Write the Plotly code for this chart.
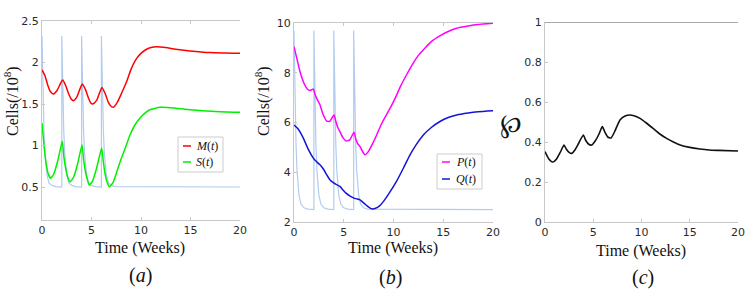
import plotly.graph_objects as go

W, H = 747, 291

# ---------------- data ----------------
# Panel (a)
m_t = [0, 0.3, 0.6, 0.85, 1.14, 1.5, 1.8, 2.09, 2.4, 2.7, 2.95, 3.16, 3.5, 3.8, 4.07, 4.4, 4.7, 4.95, 5.12,
       5.5, 5.8, 6.06, 6.4, 6.7, 7.0, 7.2, 7.6, 8.0, 8.55, 9.0, 9.56, 10.0, 10.57, 11.0, 11.6, 12.5, 13.5,
       14.95, 17, 20]
m_v = [1.91, 1.84, 1.72, 1.65, 1.62, 1.66, 1.73, 1.79, 1.72, 1.62, 1.56, 1.54, 1.58, 1.67, 1.74, 1.67, 1.57,
       1.51, 1.50, 1.54, 1.63, 1.70, 1.62, 1.52, 1.47, 1.46, 1.52, 1.62, 1.77, 1.92, 2.05, 2.11, 2.16, 2.18,
       2.19, 2.18, 2.16, 2.14, 2.12, 2.11]
s_t = [0, 0.2, 0.4, 0.6, 0.88, 1.2, 1.6, 2.05, 2.2, 2.4, 2.6, 2.83, 3.2, 3.6, 4.04, 4.2, 4.4, 4.6, 4.78, 5.1,
       5.5, 6.03, 6.2, 6.4, 6.6, 6.8, 7.2, 7.6, 8.0, 8.5, 8.9, 9.4, 9.9, 10.4, 10.9, 11.9, 13, 15, 17.5, 20]
s_v = [1.27, 1.0, 0.8, 0.67, 0.605, 0.66, 0.82, 1.05, 0.87, 0.72, 0.62, 0.56, 0.62, 0.78, 1.01, 0.83, 0.68,
       0.58, 0.52, 0.57, 0.72, 0.97, 0.80, 0.64, 0.55, 0.50, 0.56, 0.70, 0.84, 1.0, 1.13, 1.25, 1.33, 1.39,
       1.43, 1.46, 1.455, 1.43, 1.41, 1.40]

# drug dosing curve (light blue), same times for panels a and b
drug_t = [0, 0.05, 0.1, 0.15, 0.2, 0.3, 0.4, 0.5, 0.7, 1.0, 1.4, 2.0,
          2.0, 2.05, 2.1, 2.15, 2.2, 2.3, 2.4, 2.5, 2.7, 3.0, 3.4, 4.0,
          4.0, 4.05, 4.1, 4.15, 4.2, 4.3, 4.4, 4.5, 4.7, 5.0, 5.4, 6.0,
          6.0, 6.05, 6.1, 6.15, 6.2, 6.3, 6.4, 6.5, 6.7, 7.0, 7.4, 20]
drug_a = [2.32, 1.92, 1.61, 1.36, 1.17, 0.90, 0.75, 0.65, 0.55, 0.52, 0.505, 0.5,
          2.32, 1.92, 1.61, 1.36, 1.17, 0.90, 0.75, 0.65, 0.55, 0.52, 0.505, 0.5,
          2.32, 1.92, 1.61, 1.36, 1.17, 0.90, 0.75, 0.65, 0.55, 0.52, 0.505, 0.5,
          2.32, 1.92, 1.61, 1.36, 1.17, 0.90, 0.75, 0.65, 0.55, 0.52, 0.505, 0.5]
drug_b = [9.7, 8.12, 6.89, 5.88, 5.16, 4.08, 3.51, 3.08, 2.72, 2.57, 2.52, 2.5,
          9.7, 8.12, 6.89, 5.88, 5.16, 4.08, 3.51, 3.08, 2.72, 2.57, 2.52, 2.5,
          9.7, 8.12, 6.89, 5.88, 5.16, 4.08, 3.51, 3.08, 2.72, 2.57, 2.52, 2.5,
          9.7, 8.12, 6.89, 5.88, 5.16, 4.08, 3.51, 3.08, 2.72, 2.57, 2.52, 2.5]

# Panel (b)
p_t = [0, 0.3, 0.6, 0.94, 1.2, 1.44, 1.7, 1.94, 2.1, 2.3, 2.61, 2.9, 3.28, 3.6, 4.02, 4.2, 4.4, 4.62, 4.9,
       5.23, 5.6, 6.03, 6.2, 6.4, 6.63, 6.9, 7.14, 7.5, 7.9, 8.31, 8.8, 9.2, 9.65, 10.2, 10.7, 11.3, 12,
       12.5, 13, 13.8, 14.7, 15.5, 16.35, 17.5, 18.5, 20]
p_v = [9.05, 8.55, 8.05, 7.64, 7.42, 7.31, 7.30, 7.35, 7.15, 6.95, 6.71, 6.35, 6.06, 6.05, 6.30, 6.05,
       5.80, 5.63, 5.40, 5.26, 5.30, 5.61, 5.35, 5.15, 5.03, 4.83, 4.70, 4.85, 5.15, 5.50, 5.95, 6.25,
       6.57, 7.0, 7.45, 7.91, 8.4, 8.7, 8.92, 9.25, 9.49, 9.66, 9.79, 9.88, 9.94, 9.99]
q_t = [0, 0.4, 0.94, 1.4, 1.94, 2.2, 2.61, 3.0, 3.28, 3.6, 4.02, 4.3, 4.62, 4.9, 5.23, 5.6, 6.03, 6.3,
       6.63, 6.9, 7.14, 7.5, 7.8, 8.2, 8.6, 8.98, 9.6, 10.3, 11, 11.66, 12.3, 13, 13.8, 14.67, 15.5, 16.35,
       17.5, 18.5, 20]
q_v = [5.90, 5.75, 5.37, 4.95, 4.57, 4.45, 4.30, 4.10, 3.90, 3.70, 3.56, 3.50, 3.43, 3.30, 3.16, 3.05,
       2.96, 2.93, 2.89, 2.80, 2.72, 2.60, 2.53, 2.55, 2.65, 2.82, 3.18, 3.63, 4.17, 4.70, 5.12, 5.50,
       5.80, 6.04, 6.20, 6.30, 6.38, 6.43, 6.47]

# Panel (c)
w_t = [0, 0.4, 0.8, 1.2, 1.6, 1.97, 2.2, 2.5, 2.76, 3.1, 3.5, 3.97, 4.2, 4.5, 4.84, 5.2, 5.6, 5.94, 6.2,
       6.5, 6.84, 7.2, 7.77, 8.3, 8.8, 9.3, 9.84, 10.5, 11.2, 11.9, 12.6, 13.3, 14.0, 15, 16.06, 17, 18, 20]
w_v = [0.352, 0.315, 0.300, 0.315, 0.35, 0.385, 0.365, 0.348, 0.343, 0.36, 0.395, 0.435, 0.41, 0.39,
       0.385, 0.405, 0.44, 0.477, 0.45, 0.425, 0.42, 0.45, 0.51, 0.53, 0.535, 0.53, 0.518, 0.495, 0.468,
       0.44, 0.418, 0.40, 0.385, 0.373, 0.365, 0.36, 0.358, 0.355]

x_ticks = [0, 5, 10, 15, 20]
ya_ticks = [0.5, 1, 1.5, 2, 2.5]
yb_ticks = [2, 4, 6, 8, 10]
yc_ticks = [0, 0.2, 0.4, 0.6, 0.8, 1]

# ---------------- figure ----------------
def px(x):
    return x / W

def py(y):
    return 1 - y / H

BLUE_LIGHT = "rgb(178,204,240)"
fig = go.Figure()

fig.add_trace(go.Scatter(x=drug_t, y=drug_a, mode="lines", line=dict(color=BLUE_LIGHT, width=1.2),
                         xaxis="x", yaxis="y", showlegend=False))
fig.add_trace(go.Scatter(x=m_t, y=m_v, mode="lines", line=dict(color="#ff0000", width=1.5, shape="spline", smoothing=0.6),
                         xaxis="x", yaxis="y", showlegend=False))
fig.add_trace(go.Scatter(x=s_t, y=s_v, mode="lines", line=dict(color="#00f000", width=1.5, shape="spline", smoothing=0.4),
                         xaxis="x", yaxis="y", showlegend=False))

fig.add_trace(go.Scatter(x=drug_t, y=drug_b, mode="lines", line=dict(color=BLUE_LIGHT, width=1.2),
                         xaxis="x2", yaxis="y2", showlegend=False))
fig.add_trace(go.Scatter(x=p_t, y=p_v, mode="lines", line=dict(color="#ff00ff", width=1.5, shape="spline", smoothing=0.5),
                         xaxis="x2", yaxis="y2", showlegend=False))
fig.add_trace(go.Scatter(x=q_t, y=q_v, mode="lines", line=dict(color="#1414d8", width=1.5, shape="spline", smoothing=0.5),
                         xaxis="x2", yaxis="y2", showlegend=False))

fig.add_trace(go.Scatter(x=w_t, y=w_v, mode="lines", line=dict(color="#111111", width=1.6, shape="spline", smoothing=0.5),
                         xaxis="x3", yaxis="y3", showlegend=False))

tickfont = dict(family="DejaVu Sans", size=11, color="#2a2a2a")
axis_common = dict(showgrid=False, zeroline=False, showline=True, linecolor="#c8c8c8", linewidth=1,
                   ticks="inside", ticklen=3, tickcolor="#c8c8c8", tickfont=tickfont, fixedrange=True,
                   automargin=False)

fig.update_layout(
    template="none",
    width=W, height=H, margin=dict(l=0, r=0, t=0, b=0, pad=0), autosize=False,
    paper_bgcolor="white", plot_bgcolor="white", showlegend=False,
    xaxis=dict(domain=[px(42), px(240)], range=[0, 20], tickvals=x_ticks, anchor="y", mirror="ticks", **axis_common),
    yaxis=dict(domain=[py(220.2), py(21)], range=[0.1, 2.5], tickvals=ya_ticks, ticktext=["0.5", "1", "1.5", "2", "2.5"],
               anchor="x", **axis_common),
    xaxis2=dict(domain=[px(294), px(493)], range=[0, 20], tickvals=x_ticks, anchor="y2", mirror="ticks", **axis_common),
    yaxis2=dict(domain=[py(222), py(23)], range=[2, 10], tickvals=yb_ticks, anchor="x2", **axis_common),
    xaxis3=dict(domain=[px(545), px(738)], range=[0, 20], tickvals=x_ticks, anchor="y3", **axis_common),
    yaxis3=dict(domain=[py(222), py(22)], range=[0, 1], tickvals=yc_ticks, ticktext=["0", "0.2", "0.4", "0.6", "0.8", "1"],
                anchor="x3", **axis_common),
)

# top frame line of panel (c)
fig.add_shape(type="line", xref="x3", yref="y3", x0=0, x1=20, y0=1, y1=1, line=dict(color="#555555", width=1))

serif = "Liberation Serif"
ann = []
def add_text(x, y, text, size, family=serif, angle=0, xanchor="center"):
    ann.append(dict(x=px(x), y=py(y), text=text, textangle=angle, showarrow=False,
                    xref="paper", yref="paper", xanchor=xanchor, yanchor="middle",
                    font=dict(family=family, size=size, color="#111")))

# y-axis titles
add_text(11, 101, "Cells(/10<sup>8</sup>)", 16, angle=-90)
add_text(262, 101, "Cells(/10<sup>8</sup>)", 16, angle=-90)
add_text(511, 123, "℘", 26, family="DejaVu Serif")
# x-axis titles
for cx, cy in [(140, 248), (393, 248), (641, 251)]:
    add_text(cx, cy, "Time (Weeks)", 16)
# panel labels
for (cx, cy), lab in zip([(140, 275), (390, 277), (643, 277)], ["a", "b", "c"]):
    add_text(cx, cy, f"(<i>{lab}</i>)", 20)

# legend boxes (drawn manually)
legends = [
    dict(box=(178, 137, 223, 172), items=[("#ff0000", 146, "<i>M</i>(<i>t</i>)"), ("#00f000", 162, "<i>S</i>(<i>t</i>)")],
         lx=(183, 191), tx=194),
    dict(box=(437, 154, 482, 189), items=[("#ff00ff", 162, "<i>P</i>(<i>t</i>)"), ("#1414d8", 179, "<i>Q</i>(<i>t</i>)")],
         lx=(442, 450), tx=454),
]
for lg in legends:
    x0, y0, x1, y1 = lg["box"]
    fig.add_shape(type="rect", xref="paper", yref="paper", x0=px(x0), x1=px(x1), y0=py(y1), y1=py(y0),
                  line=dict(color="#cccccc", width=1), fillcolor="white", layer="above")
    for col, yy, txt in lg["items"]:
        fig.add_shape(type="line", xref="paper", yref="paper", x0=px(lg["lx"][0]), x1=px(lg["lx"][1]),
                      y0=py(yy), y1=py(yy), line=dict(color=col, width=1.5), layer="above")
        add_text(lg["tx"], yy, txt, 12, xanchor="left")

fig.update_layout(annotations=ann)
fig.write_html("out.html", config={"displayModeBar": False, "staticPlot": True},
               post_script="document.body.style.margin='0';document.body.style.padding='0';")
